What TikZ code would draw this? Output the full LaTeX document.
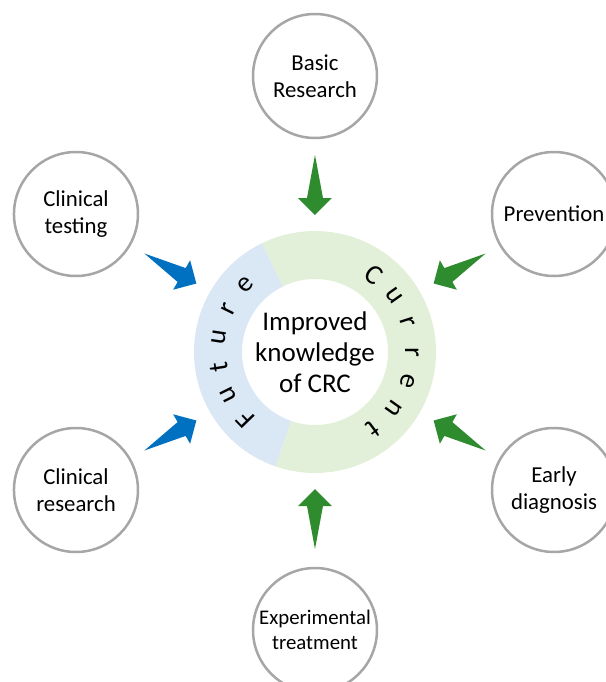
\documentclass[tikz,border=0pt]{standalone}
\usepackage{fontspec}
\setmainfont{Carlito}
\usetikzlibrary{calc}

\definecolor{futurefill}{HTML}{DAE7F4}
\definecolor{currentfill}{HTML}{E2F0D9}
\definecolor{futurearrow}{HTML}{0070C0}
\definecolor{currentarrow}{HTML}{2E8B2E}
\definecolor{rim}{HTML}{A6A6A6}

% Pfeil vom Themen-Knoten (#1) zum Zentrum, Farbe #2
\newcommand{\feed}[2]{%
  \fill[#2] ($(crc.center)!98.5pt!(#1.center)$)
    -- ($(crc.center)!77pt!(#1.center)!4pt!90:(#1.center)$)
    -- ($(crc.center)!77pt!(#1.center)!8.5pt!90:(#1.center)$)
    -- ($(crc.center)!68.5pt!(#1.center)$)
    -- ($(crc.center)!77pt!(#1.center)!8.5pt!-90:(#1.center)$)
    -- ($(crc.center)!77pt!(#1.center)!4pt!-90:(#1.center)$)
    -- cycle;}

\begin{document}
\begin{tikzpicture}[
    every node/.style={font=\fontsize{11.4}{13.4}\selectfont}, % Schrift der Knoten
    topic/.style={circle, draw=rim, line width=1.25pt, fill=white, align=center, minimum size=62pt, inner sep=0pt}, % Stil der Themen
    hub/.style={align=center, font=\fontsize{13.5}{15.5}\selectfont}, % Stil des Zentrums
    letter/.style={font=\fontsize{14}{14}\selectfont, inner sep=0pt} % Buchstaben im Ring
]

% Rahmen
\useasboundingbox (-157.5pt,-165pt) rectangle (145.5pt,176pt);

% Ring: Future (blau) und Current (gruen)
\fill[futurefill] (116:60.5pt) arc[start angle=116, end angle=251, radius=60.5pt]
  -- (251:36.5pt) arc[start angle=251, end angle=116, radius=36.5pt] -- cycle;
\fill[currentfill] (251:60.5pt) arc[start angle=251, end angle=476, radius=60.5pt]
  -- (116:36.5pt) arc[start angle=116, end angle=-109, radius=36.5pt] -- cycle;

% Zentrum
\node[hub] (crc) at (0,0) {Improved\\knowledge\\of CRC};

% Beschriftung im Ring
\foreach \ch [count=\i, evaluate=\i as \a using 53-17.67*(\i-1)] in {C,u,r,r,e,n,t}
  \node[letter, rotate=\a-90] at (\a:48.5pt) {\ch};
\foreach \ch [count=\i, evaluate=\i as \a using 224-17.6*(\i-1)] in {F,u,t,u,r,e}
  \node[letter, rotate=\a-90] at (\a:48.5pt) {\ch};

% Themen-Knoten
\node[topic] (basic) at (90:138pt)  {Basic\\Research};
\node[topic] (prev)  at (30:138pt)  {Prevention};
\node[topic] (early) at (-30:138pt) {Early\\diagnosis};
\node[topic, font=\fontsize{10.4}{12.5}\selectfont] (exper) at (270:139pt) {Experimental\\treatment};
\node[topic] (cres)  at (210:138pt) {Clinical\\research};
\node[topic] (ctest) at (150:138pt) {Clinical\\testing};

% Pfeile
\feed{basic}{currentarrow}
\feed{prev}{currentarrow}
\feed{early}{currentarrow}
\feed{exper}{currentarrow}
\feed{cres}{futurearrow}
\feed{ctest}{futurearrow}

\end{tikzpicture}
\end{document}
